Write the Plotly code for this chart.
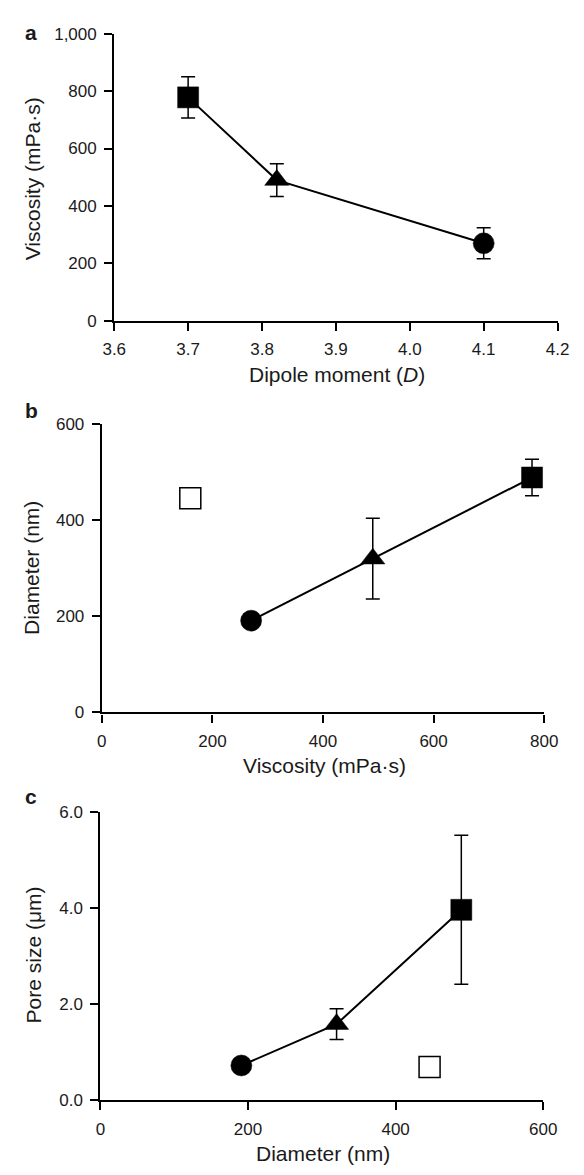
import plotly.graph_objects as go

# Data
dipole = [3.70, 3.82, 4.10]
viscosity = [778, 490, 270]
viscosity_err = [72, 57, 54]
diameter = [489, 320, 191]
diameter_err = [38, 84, 0]
pore = [3.96, 1.58, 0.72]
pore_err = [1.55, 0.32, 0]
symbols = ["square", "triangle-up", "circle"]
open_viscosity = [160]
open_diameter = [446]
open_pore = [0.69]

W, H = 584, 1175
FONT = "Liberation Sans, Arial, Helvetica, sans-serif"
TXT = "#1a1a1a"


def px(x):
    return x / W


def py(y):
    return 1 - y / H


fig = go.Figure()


def add_series(x, y, err, xa, ya):
    fig.add_trace(go.Scatter(
        x=x, y=y, mode="lines+markers", xaxis=xa, yaxis=ya,
        line=dict(color="black", width=2),
        marker=dict(symbol=symbols, size=[21, 21, 21], color="#000000",
                    opacity=1, line=dict(width=0.5, color="#000000")),
        opacity=1,
        error_y=dict(type="data", array=err, visible=True, color="black",
                     thickness=1.5, width=7),
        cliponaxis=False, showlegend=False))


def add_open(x, y, xa, ya):
    fig.add_trace(go.Scatter(
        x=x, y=y, mode="markers", xaxis=xa, yaxis=ya,
        marker=dict(symbol="square", size=21, color="white", opacity=1,
                    line=dict(width=1.5, color="black")),
        cliponaxis=False, showlegend=False))


add_series(dipole, viscosity, viscosity_err, "x", "y")
add_series(viscosity, diameter, diameter_err, "x2", "y2")
add_open(open_viscosity, open_diameter, "x2", "y2")
add_series(diameter, pore, pore_err, "x3", "y3")
add_open(open_diameter, open_pore, "x3", "y3")

common = dict(showline=True, linecolor="black", linewidth=2.2, ticks="outside",
              ticklen=8, tickwidth=2, tickcolor="black", showgrid=False,
              zeroline=False, tickfont=dict(family=FONT, size=17, color=TXT),
              mirror=False, ticklabelstandoff=4)

fig.update_layout(
    width=W, height=H, margin=dict(l=0, r=0, t=0, b=0),
    paper_bgcolor="white", plot_bgcolor="white",
    xaxis=dict(domain=[px(107), px(571)], range=[3.6, 4.2], dtick=0.1,
               tick0=3.6, tickformat=".1f", anchor="y", **common),
    yaxis=dict(domain=[py(317), py(25)], range=[0, 1000], dtick=200,
               tickformat=",", anchor="x", **common),
    xaxis2=dict(domain=[px(94), px(557)], range=[0, 800], dtick=200,
                anchor="y2", **common),
    yaxis2=dict(domain=[py(715), py(422)], range=[0, 600], dtick=200,
                anchor="x2", **common),
    xaxis3=dict(domain=[px(92.5), px(556)], range=[0, 600], dtick=200,
                anchor="y3", **common),
    yaxis3=dict(domain=[py(1109), py(816)], range=[0, 6], dtick=2,
                tickformat=".1f", anchor="x3", **common),
)

ann = []


def label(text, x, y, size=21, angle=0, bold=False):
    ann.append(dict(text=("<b>%s</b>" % text) if bold else text,
                    x=px(x), y=py(y), xref="paper", yref="paper",
                    showarrow=False, textangle=angle, xanchor="center",
                    yanchor="middle",
                    font=dict(family=FONT, size=size, color=TXT)))


label("a", 20, 24, size=21, bold=True)
label("b", 20, 408, size=21, bold=True)
label("c", 20, 800, size=21, bold=True)
label("Dipole moment (<i>D</i>)", 340, 371)
label("Viscosity (mPa·s)", 21, 173, angle=-90)
label("Viscosity (mPa·s)", 327, 769)
label("Diameter (nm)", 21, 568, angle=-90)
label("Diameter (nm)", 325, 1163)
label("Pore size (μm)", 22, 962, angle=-90)

fig.update_layout(annotations=ann)
fig.write_html("out.html")
